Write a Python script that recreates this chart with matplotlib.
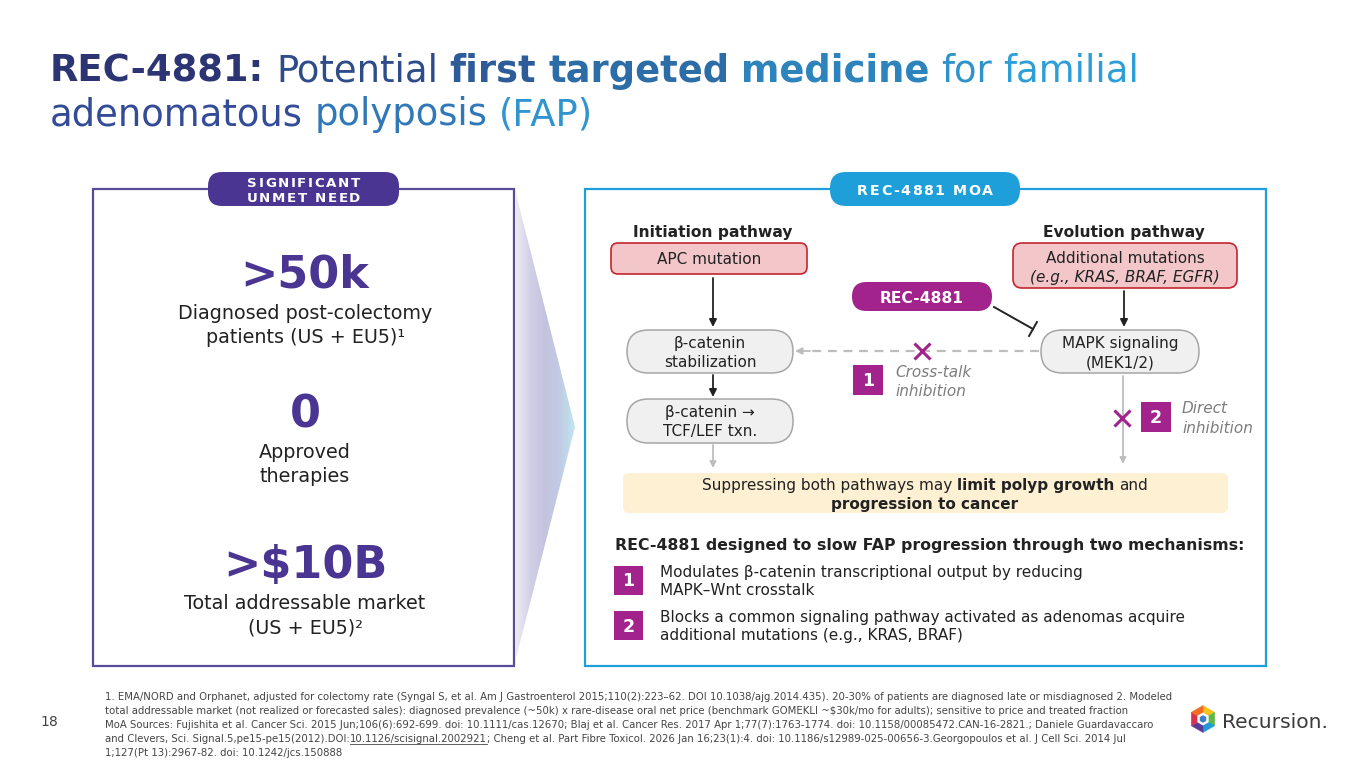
import numpy as np
import matplotlib
matplotlib.use('Agg')
import matplotlib.pyplot as plt
from matplotlib.patches import FancyBboxPatch, Rectangle, Polygon
from matplotlib.colors import LinearSegmentedColormap, to_rgb

plt.rcParams['font.family'] = ['DejaVu Sans']

# ---- colours
PURPLE = '#4a3593'
BLUE = '#1f9fda'
MAGENTA = '#a3238c'
DARK = '#222222'
GRAYTXT = '#7d7d7d'
LIGHTARROW = '#bdbdbd'

# ---- texts / values
title_line1 = [('REC-4881:', 'bold'), ('Potential', 'normal'), ('first', 'bold'),
               ('targeted', 'bold'), ('medicine', 'bold'), ('for', 'normal'), ('familial', 'normal')]
title_line2 = [('adenomatous', 'normal'), ('polyposis', 'normal'), ('(FAP)', 'normal')]

left_tag = ['SIGNIFICANT', 'UNMET NEED']
stat_values = ['>50k', '0', '>$10B']
stat_labels = [['Diagnosed post-colectomy', 'patients (US + EU5)\u00b9'],
               ['Approved', 'therapies'],
               ['Total addressable market', '(US + EU5)\u00b2']]

right_tag = 'REC-4881 MOA'
pathway_titles = ['Initiation pathway', 'Evolution pathway']
apc_text = 'APC mutation'
addl_text = ['Additional mutations', '(e.g., KRAS, BRAF, EGFR)']
drug_text = 'REC-4881'
bcat_text = ['\u03b2-catenin', 'stabilization']
tcf_text = ['\u03b2-catenin \u2192', 'TCF/LEF txn.']
mapk_text = ['MAPK signaling', '(MEK1/2)']
crosstalk_text = ['Cross-talk', 'inhibition']
direct_text = ['Direct', 'inhibition']
summary_line1 = [('Suppressing both pathways may', 'normal'), ('limit polyp growth', 'bold'), ('and', 'normal')]
summary_line2 = 'progression to cancer'
mech_header = 'REC-4881 designed to slow FAP progression through two mechanisms:'
mechanisms = [['Modulates \u03b2-catenin transcriptional output by reducing', 'MAPK\u2013Wnt crosstalk'],
              ['Blocks a common signaling pathway activated as adenomas acquire',
               'additional mutations (e.g., KRAS, BRAF)']]

footnotes = [
    '1. EMA/NORD and Orphanet, adjusted for colectomy rate (Syngal S, et al. Am J Gastroenterol 2015;110(2):223\u201362. DOI 10.1038/ajg.2014.435). 20-30% of patients are diagnosed late or misdiagnosed 2. Modeled',
    'total addressable market (not realized or forecasted sales): diagnosed prevalence (~50k) x rare-disease oral net price (benchmark GOMEKLI ~$30k/mo for adults); sensitive to price and treated fraction',
    'MoA Sources: Fujishita et al. Cancer Sci. 2015 Jun;106(6):692-699. doi: 10.1111/cas.12670; Blaj et al. Cancer Res. 2017 Apr 1;77(7):1763-1774. doi: 10.1158/00085472.CAN-16-2821.; Daniele Guardavaccaro',
    ['and Clevers, Sci. Signal.5,pe15-pe15(2012).DOI:', '10.1126/scisignal.2002921',
     '; Cheng et al. Part Fibre Toxicol. 2026 Jan 16;23(1):4. doi: 10.1186/s12989-025-00656-3.Georgopoulos et al. J Cell Sci. 2014 Jul'],
    '1;127(Pt 13):2967-82. doi: 10.1242/jcs.150888',
]
page_no = '18'
logo_text = 'Recursion.'
logo_colors = ['#f8c21c', '#5cb947', '#1f9ad6', '#5b3a96', '#d9304c', '#f26b22']

# ---- canvas (1 data unit = 1 pixel, y downwards)
fig = plt.figure(figsize=(13.65, 7.68), dpi=100)
ax = fig.add_axes([0, 0, 1, 1])
ax.set_xlim(0, 1365)
ax.set_ylim(768, 0)
ax.axis('off')
R = fig.canvas.get_renderer()


def tw(s, size, weight='normal', style='normal'):
    t = ax.text(0, 0, s, fontsize=size, fontweight=weight, fontstyle=style)
    w = t.get_window_extent(renderer=R).width
    t.remove()
    return w


def rich(x, y, parts, size, ha='left', color=DARK, cfun=None, gap=True, draw=True):
    # parts: (text, weight[, style])
    sp = (tw('a a', size) - tw('aa', size)) if gap else 0
    ws = [tw(p[0], size, p[1], p[2] if len(p) > 2 else 'normal') for p in parts]
    total = sum(ws) + sp * (len(parts) - 1)
    if not draw:
        return total
    x0 = x - total / 2 if ha == 'center' else x
    pos = []
    for p, w in zip(parts, ws):
        c = cfun(x0 + w / 2) if cfun else color
        ax.text(x0, y, p[0], fontsize=size, fontweight=p[1],
                fontstyle=p[2] if len(p) > 2 else 'normal', color=c, va='baseline', ha='left')
        pos.append((x0, w))
        x0 += w + sp
    return pos


def spaced(xc, y, s, size, color, extra):
    sp = tw('a a', size, 'bold') - tw('aa', size, 'bold')
    ws = [sp if ch == ' ' else tw(ch, size, 'bold') for ch in s]
    total = sum(ws) + extra * (len(s) - 1)
    x0 = xc - total / 2
    for ch, w in zip(s, ws):
        if ch != ' ':
            ax.text(x0, y, ch, fontsize=size, fontweight='bold', color=color, va='baseline')
        x0 += w + extra


def grad(c1, c2, xa, xb):
    a, b = np.array(to_rgb(c1)), np.array(to_rgb(c2))
    def f(x):
        t = min(max((x - xa) / (xb - xa), 0), 1)
        return tuple(a + (b - a) * t)
    return f


def rbox(x, y, w, h, fc, ec='none', r=6, lw=1.2, z=2):
    ax.add_patch(FancyBboxPatch((x, y), w, h, boxstyle=f'round,pad=0,rounding_size={r}',
                                facecolor=fc, edgecolor=ec, linewidth=lw, zorder=z))


def arrow(x0, y0, x1, y1, color=DARK, lw=1.3, ms=11):
    ax.annotate('', xy=(x1, y1), xytext=(x0, y0),
                arrowprops=dict(arrowstyle='-|>', color=color, lw=lw, mutation_scale=ms,
                                shrinkA=0, shrinkB=0), zorder=3)


def numbox(x, y, n, s=30):
    ax.add_patch(Rectangle((x, y), s, s, facecolor=MAGENTA, edgecolor='none', zorder=3))
    ax.text(x + s / 2, y + s / 2 + 1, n, fontsize=12.5, fontweight='bold', color='white',
            ha='center', va='center', zorder=4)


# ---- title (word-wise colour gradient)
tsize = 24 * 1090 / rich(50, 82, title_line1, 24, draw=False)
rich(50, 82, title_line1, tsize, cfun=grad('#2c2868', '#2ea7dd', 50, 1140))
rich(50, 125, title_line2, tsize, cfun=grad('#363483', '#2e9ed8', 50, 600))

# ---- left panel
ax.add_patch(Rectangle((93, 189), 421, 477, facecolor='white', edgecolor='#5a4a9c', lw=1.6, zorder=1))
rbox(208, 172, 191, 34, PURPLE, r=14, z=3)
spaced(303.5, 187, left_tag[0], 9.6, 'white', 1.6)
spaced(303.5, 202, left_tag[1], 9.6, 'white', 1.6)
val_y = [287, 427, 578]
lab_y = [319, 458, 609]
for v, labs, vy, ly in zip(stat_values, stat_labels, val_y, lab_y):
    ax.text(305, vy, v, fontsize=32, fontweight='bold', color=PURPLE, ha='center', va='baseline')
    for i, l in enumerate(labs):
        ax.text(305, ly + 24 * i, l, fontsize=13.8, color=DARK, ha='center', va='baseline')

# ---- chevron with gradient
chev = Polygon([[515, 190], [575, 427], [515, 662]], closed=True, facecolor='none', edgecolor='none')
ax.add_patch(chev)
cm = LinearSegmentedColormap.from_list('chev', ['#eeedf5', '#d2d0e6', '#c4c3de', '#c1cce4', '#c0e6ef'])
im = ax.imshow(np.linspace(0, 1, 256).reshape(1, -1), extent=[515, 575, 662, 190],
               cmap=cm, aspect='auto', zorder=1)
im.set_clip_path(chev)

# ---- right panel
ax.add_patch(Rectangle((585, 189), 681, 477, facecolor='white', edgecolor=BLUE, lw=1.6, zorder=1))
rbox(830, 172, 190, 34, BLUE, r=16, z=3)
spaced(925, 195, right_tag, 10.2, 'white', 1.6)

ax.text(713, 237, pathway_titles[0], fontsize=11.2, fontweight='bold', color=DARK, ha='center', va='baseline')
ax.text(1124, 237, pathway_titles[1], fontsize=11.2, fontweight='bold', color=DARK, ha='center', va='baseline')

rbox(611, 243, 196, 31, '#f3c7ca', '#c4262e', r=7)
ax.text(709, 264, apc_text, fontsize=11, color=DARK, ha='center', va='baseline', zorder=4)
rbox(1013, 243, 224, 45, '#f3c7ca', '#c4262e', r=9)
ax.text(1125, 263, addl_text[0], fontsize=11, color=DARK, ha='center', va='baseline', zorder=4)
ax.text(1125, 282, addl_text[1], fontsize=11, fontstyle='italic', color=DARK, ha='center', va='baseline', zorder=4)

rbox(852, 282, 140, 29, MAGENTA, r=14.5, z=3)
ax.text(922, 303, drug_text, fontsize=11.2, fontweight='bold', color='white', ha='center', va='baseline', zorder=4)

# inhibition T
p0, p1 = np.array([994, 307]), np.array([1033, 329])
d = (p1 - p0) / np.linalg.norm(p1 - p0)
n = np.array([-d[1], d[0]])
ax.plot([p0[0], p1[0]], [p0[1], p1[1]], color=DARK, lw=1.4, zorder=3)
ax.plot([p1[0] - 8 * n[0], p1[0] + 8 * n[0]], [p1[1] - 8 * n[1], p1[1] + 8 * n[1]], color=DARK, lw=1.4, zorder=3)

for x, y, w, h, txt in [(627, 330, 166, 43, bcat_text), (627, 399, 166, 44, tcf_text),
                        (1041, 330, 158, 43, mapk_text)]:
    rbox(x, y, w, h, '#f0f0f0', '#a6a6a6', r=21.5, lw=1.1)
    ax.text(x + w / 2, y + 18, txt[0], fontsize=11, color=DARK, ha='center', va='baseline', zorder=4)
    ax.text(x + w / 2, y + 37, txt[1], fontsize=11, color=DARK, ha='center', va='baseline', zorder=4)

arrow(713, 278, 713, 327)
arrow(1124, 291, 1124, 327)
arrow(713, 375, 713, 397)
arrow(713, 445, 713, 468, color=LIGHTARROW, ms=9)
arrow(1123, 376, 1123, 464, color=LIGHTARROW, ms=9)

# dashed cross-talk arrow
ax.plot([1039, 808], [351, 351], color=LIGHTARROW, lw=1.6, ls=(0, (4, 3)), zorder=2)
arrow(810, 351, 795, 351, color=LIGHTARROW, ms=10)
ax.plot([922], [351], marker='x', ms=11, mew=2.2, color=MAGENTA, zorder=4, ls='none')
ax.plot([1122], [418], marker='x', ms=11, mew=2.2, color=MAGENTA, zorder=4, ls='none')

numbox(853, 365, '1')
ax.text(895, 377, crosstalk_text[0], fontsize=11, fontstyle='italic', color=GRAYTXT, va='baseline')
ax.text(895, 396, crosstalk_text[1], fontsize=11, fontstyle='italic', color=GRAYTXT, va='baseline')
numbox(1141, 402, '2')
ax.text(1182, 413, direct_text[0], fontsize=11, fontstyle='italic', color=GRAYTXT, va='baseline')
ax.text(1182, 433, direct_text[1], fontsize=11, fontstyle='italic', color=GRAYTXT, va='baseline')

# summary box
rbox(623, 473, 605, 40, '#fdf0d3', r=6)
rich(925, 490, summary_line1, 11, ha='center')
ax.text(925, 509, summary_line2, fontsize=11, fontweight='bold', color=DARK, ha='center', va='baseline')

# mechanisms
hsize = 11 * 624 / tw(mech_header, 11, 'bold')
ax.text(615, 550, mech_header, fontsize=hsize, fontweight='bold', color=DARK, va='baseline')
for i, (lines, y0) in enumerate(zip(mechanisms, [566, 611])):
    numbox(614, y0, str(i + 1), s=29)
    ax.text(660, y0 + 11, lines[0], fontsize=11, color=DARK, va='baseline')
    ax.text(660, y0 + 29, lines[1], fontsize=11, color=DARK, va='baseline')

# ---- footnotes
fsize = 7 * 1070 / tw(footnotes[0], 7)
for i, line in enumerate(footnotes):
    y = 700 + 14 * i
    if isinstance(line, list):
        pos = rich(105, y, [(s, 'normal') for s in line], fsize, color='#444444', gap=False)
        ax.plot([pos[1][0], pos[1][0] + pos[1][1]], [y + 1.5, y + 1.5], color='#444444', lw=0.6)
    else:
        ax.text(105, y, line, fontsize=fsize, color='#444444', va='baseline')
ax.text(40, 726, page_no, fontsize=10, color='#444444', va='baseline')

# ---- logo
cx, cy, rr = 1203, 719, 13.5
ang = np.deg2rad(np.arange(-90, 270, 60))
vx, vy = cx + rr * np.cos(ang), cy + rr * np.sin(ang)
for k, c in enumerate(logo_colors):
    j = (k + 1) % 6
    ax.add_patch(Polygon([[cx, cy], [vx[k], vy[k]], [vx[j], vy[j]]], closed=True,
                         facecolor=c, edgecolor=c, lw=0.3, zorder=3))
ax.add_patch(Polygon(np.c_[cx + 6.5 * np.cos(ang), cy + 6.5 * np.sin(ang)], closed=True,
                     facecolor='white', edgecolor='none', zorder=4))
ax.add_patch(Polygon(np.c_[cx + 3.8 * np.cos(ang), cy + 3.8 * np.sin(ang)], closed=True,
                     facecolor='#3a7fc4', edgecolor='none', zorder=5))
lsize = 16 * 106 / tw(logo_text, 16)
ax.text(1222, 728, logo_text, fontsize=lsize, color='#3c3c3c', va='baseline')

ax.set_xlim(0, 1365)
ax.set_ylim(768, 0)
fig.savefig('out.png', dpi=100, facecolor='white')
